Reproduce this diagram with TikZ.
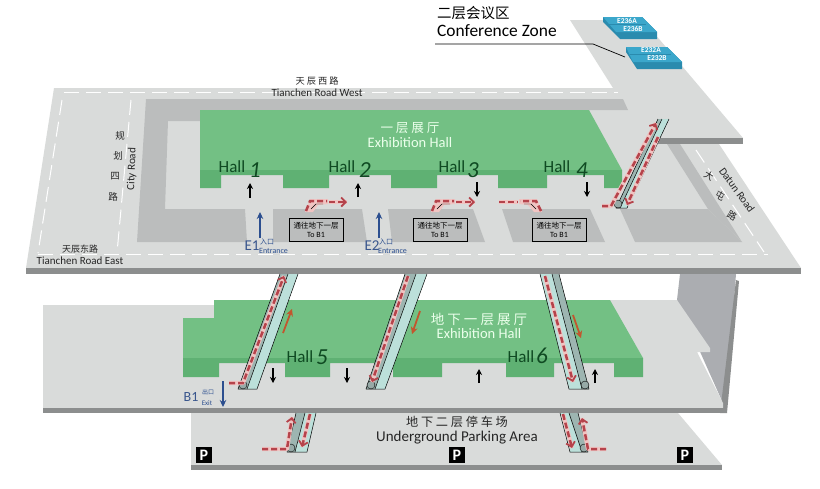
\documentclass[tikz,border=0pt]{standalone}
\usepackage{fontspec}
\setmainfont{Carlito}
\newfontfamily\cjk{Noto Sans CJK SC}
\usetikzlibrary{arrows.meta}
\definecolor{slabgray}{HTML}{D9DBDA}
\definecolor{edgegray}{HTML}{8C8E8E}
\definecolor{blockgray}{HTML}{BBBDBD}
\definecolor{wallgray}{HTML}{ABADB1}
\definecolor{hallgreen}{HTML}{73C084}
\definecolor{frontgreen}{HTML}{5FB173}
\definecolor{labelgreen}{HTML}{0F4A22}
\definecolor{roomblue}{HTML}{3BA7CB}
\definecolor{roomside}{HTML}{2A8BAE}
\definecolor{routered}{HTML}{B5434B}
\definecolor{routeglow}{HTML}{F0C4C2}
\definecolor{gateblue}{HTML}{2C4F8F}
\definecolor{stepdark}{HTML}{9DB5B1}
\definecolor{steplight}{HTML}{BCE0DA}
\definecolor{sloperust}{HTML}{C2562E}
\tikzset{
    roadline/.style={white, line width=1pt, dash pattern=on 15pt off 7pt},
    walkarrow/.style={-{Stealth[length=6pt,width=6pt]}, line width=1.6pt, black},
    gatearrow/.style={-{Stealth[length=7pt,width=6.5pt]}, line width=1.8pt, gateblue},
    slopearrow/.style={-{Stealth[length=7pt,width=7pt]}, line width=1.8pt, sloperust},
    routeglowline/.style={routeglow, line width=4.2pt, line join=round},
    routeline/.style={routered, line width=2.5pt, dash pattern=on 6pt off 3pt},
    routetip/.style={-{Straight Barb[length=4.5pt,width=9pt,line width=1.8pt]}},
    hallname/.style={font=\fontsize{17}{17}\selectfont, text=labelgreen, inner sep=0pt},
    hallnum/.style={font=\fontsize{23}{23}\selectfont\itshape, text=labelgreen, inner sep=0pt},
    whitelabel/.style={text=white!92!green, align=center, inner sep=0pt},
    roadlabel/.style={font=\fontsize{11}{12}\selectfont, align=center, inner sep=0pt, text=black!85},
    bonebox/.style={draw=black, line width=0.8pt, minimum width=54pt, minimum height=23pt,
        inner sep=0pt, align=center, font=\fontsize{8}{9}\selectfont},
    parkbox/.style={fill=black, text=white, minimum size=16pt, inner sep=0pt,
        font=\fontsize{16}{16}\selectfont\bfseries},
    roomtag/.style={text=white, inner sep=0pt, font=\fontsize{7.5}{7}\selectfont\bfseries},
}
\begin{document}
\begin{tikzpicture}[x=1pt,y=-1pt]
    \useasboundingbox (0,0) rectangle (820,488);
    % Parking level
    \fill[slabgray] (191,413) -- (678,413) -- (722,465) -- (191,465) -- cycle;
    \fill[edgegray] (191,465) rectangle (722,470);
    % Back wall and B1 level
    \fill[wallgray] (680,274) -- (736,274) -- (726,410) -- (677,300) -- cycle;
    \fill[edgegray] (736,280) -- (739,281) -- (727,413) -- (720,413) -- cycle;
    \fill[slabgray] (43,305) -- (214,305) -- (214,300) -- (677,300) -- (710,348) -- (710,352)
        -- (697,352) -- (723,403) -- (723,409) -- (43,409) -- cycle;
    \fill[edgegray] (43,408) rectangle (727,413);
    % B1 hall
    \fill[hallgreen] (214,300) -- (610,300) -- (643,358) -- (183,358) -- (183,318) -- (214,318) -- cycle;
    \fill[frontgreen] (183,358) -- (643,358) -- (643,377) -- (614,377) -- (614,363) -- (554,363)
        -- (554,377) -- (506,377) -- (506,363) -- (442,363) -- (442,377) -- (393,377) -- (393,363)
        -- (330,363) -- (330,377) -- (285,377) -- (285,363) -- (219,363) -- (219,377) -- (183,377) -- cycle;
    % Ground level, with the strip up to the conference rooms
    \fill[slabgray] (54,88) -- (613,88) -- (570,20) -- (643,20) -- (743,138) -- (715,138)
        -- (801,268) -- (26,268) -- cycle;
    \fill[edgegray] (658,138) rectangle (743,144);
    \fill[edgegray] (26,268) rectangle (801,274);
    % Road markings
    \draw[roadline] (64,92) -- (618,92);
    \draw[roadline] (38,254) -- (768,254);
    \draw[roadline] (62,100) -- (38,253);
    \draw[roadline] (131,100) -- (117,253);
    \draw[roadline] (696,150) -- (764,252);
    % Grey blocks round the ground hall
    \fill[blockgray] (146,99) -- (623,99) -- (628,110) -- (200,110) -- (200,121) -- (168,121)
        -- (165,209) -- (245,209) -- (247,242) -- (137,242) -- cycle;
    \foreach \ax/\bx/\cx/\dx in {273/362/367/273, 388/473/485/392, 502/590/605/513, 620/708/742/635} {
        \fill[blockgray] (\ax,209) -- (\bx,209) -- (\cx,242) -- (\dx,242) -- cycle;
    }
    \fill[blockgray] (667,144) -- (680,144) -- (742,242) -- (708,209) -- cycle;
    % Ground hall
    \fill[hallgreen] (200,110) -- (589,110) -- (622,170) -- (200,170) -- cycle;
    \fill[frontgreen] (200,170) -- (622,170) -- (622,188) -- (604,188) -- (604,175) -- (547,175)
        -- (547,188) -- (498,188) -- (498,175) -- (437,175) -- (437,188) -- (391,188) -- (391,175)
        -- (329,175) -- (329,188) -- (283,188) -- (283,175) -- (221,175) -- (221,188) -- (200,188) -- cycle;
    % Conference rooms
    \foreach \ax/\bx/\cx/\dx/\ey/\fy in {603/642/657/620/17/39, 626/667/682/637/47/69} {
        \fill[roomside] (\ax,\ey) -- (\bx,\ey) -- (\cx,\fy-7) -- (\cx,\fy) -- (\dx,\fy) -- (\ax,\ey+5) -- cycle;
        \fill[roomblue] (\ax,\ey) -- (\bx,\ey) -- (\cx,\fy-7) -- (\dx-4,\fy-7) -- cycle;
        \draw[roomside, line width=0.5pt] (\ax+4,\ey+7) -- (\bx+4,\ey+7);
    }
    \node[roomtag] (roomA) at (627,20.5) {E236A};
    \node[roomtag] (roomB) at (633,28.5) {E236B};
    \node[roomtag] (roomC) at (651,50.5) {E232A};
    \node[roomtag] (roomD) at (657,58.5) {E232B};
    % Moving walkways: y top/y foot/top edges/foot edges/band colours/cap
    \foreach \ty/\by/\ta/\tb/\tc/\ba/\bb/\bc/\cl/\cr/\cp in {
        274/389/280/288/298/238/247/257/stepdark/steplight/243,
        274/389/405/416/427/366/375/385/stepdark/steplight/371,
        274/389/540/552/559/569/582/589/steplight/stepdark/585,
        413/452/296/305/316/287/295/307/stepdark/steplight/291,
        413/452/560/569/578/570/582/588/steplight/stepdark/584,
        119/208/658/662/669/616/620/627/stepdark/steplight/618
    } {
        \fill[\cl] (\ta,\ty) -- (\tb,\ty) -- (\bb,\by) -- (\ba,\by) -- cycle;
        \fill[\cr] (\tb,\ty) -- (\tc,\ty) -- (\bc,\by) -- (\bb,\by) -- cycle;
        \draw[line width=0.5pt] (\tb,\ty) -- (\bb,\by);
        \draw[line width=0.5pt, line join=round] (\ta,\ty) -- (\ba,\by) -- (\bc,\by) -- (\tc,\ty);
        \filldraw[fill=stepdark!80!gray, line width=0.4pt] (\cp,\by-4) circle (4pt);
    }
    % Routes on the walkways
    \foreach \ax/\ay/\bx/\by/\cx/\cy in {
        602/206/611/206/656/123,
        229/383/243/383/284/276,
        262/449/287/449/292/417,
        606/449/588/449/582/418
    } {
        \draw[routeglowline] (\ax,\ay) -- (\bx,\by) -- (\cx,\cy);
        \draw[routeline, routetip] (\ax,\ay) -- (\bx,\by) -- (\cx,\cy);
    }
    \foreach \ax/\ay/\bx/\by in {
        658/137/627/205,
        408/276/372/382,
        545/276/573/382,
        310/414/302/447,
        563/414/572/448
    } {
        \draw[routeglowline] (\ax,\ay) -- (\bx,\by);
        \draw[routeline, routetip] (\ax,\ay) -- (\bx,\by);
    }
    % Stairs to B1
    \foreach \ax/\bx/\cx/\dx/\ex in {306/310/327/329/347, 432/436/454/456/475} {
        \fill[routeglow] (\ax-1,212) -- (\bx,199) -- (\cx+1,199) -- (\cx+1,204) -- (\bx+8,205) -- (\ax+7,212) -- cycle;
        \draw[routeglowline] (\dx,202) -- (\ex,202);
        \draw[routeline, routetip] (\dx,202) -- (\ex,202);
        \draw[routeline] (\ax,211) -- (\bx,201) -- (\cx,201);
        \draw[line width=0.4pt] (\ax+5,209) -- (\bx+6,204) -- (\cx-4,204);
    }
    \fill[routeglow] (542,212) -- (537,199) -- (519,199) -- (519,204) -- (528,205) -- (534,212) -- cycle;
    \draw[routeglowline] (499,202) -- (518,202);
    \draw[routeline] (499,202) -- (518,202);
    \draw[routeline] (541,211) -- (536,201) -- (520,201);
    \draw[line width=0.4pt] (536,209) -- (531,204) -- (524,204);
    % Level slope arrows
    \foreach \ax/\ay/\bx/\by in {283/333/292/309, 420/311/412/334, 573/315/581/338} {
        \draw[slopearrow] (\ax,\ay) -- (\bx,\by);
    }
    % Walking direction
    \foreach \ax/\ay/\by in {
        250/198/183, 358/197/183, 477/182/197, 587/182/197,
        273/368/383, 347/368/383, 479/383/369, 595/383/369
    } {
        \draw[walkarrow] (\ax,\ay) -- (\ax,\by);
    }
    % Hall names
    \foreach \nm/\hx/\hy/\nx/\ny in {
        1/232/167/255/170, 2/342/167/365/170, 3/452/167/473/170, 4/557/167/582/170,
        5/300/357/322/357, 6/521/357/542/356
    } {
        \node[hallname] (hall\nm) at (\hx,\hy) {Hall};
        \node[hallnum] (hallnum\nm) at (\nx,\ny) {\nm};
    }
    \node[whitelabel, font=\fontsize{12.6}{12}\selectfont\cjk] (groundcn) at (410,128) {一 层 展 厅};
    \node[whitelabel, font=\fontsize{14.5}{14}\selectfont] (grounden) at (410,143) {Exhibition Hall};
    \node[whitelabel, font=\fontsize{13.5}{12}\selectfont\cjk] (basecn) at (479,319) {地 下 一 层 展 厅};
    \node[whitelabel, font=\fontsize{14.5}{14}\selectfont] (baseen) at (479,334) {Exhibition Hall};
    % Boxes
    \foreach \nm/\bx in {boxA/316, boxB/440, boxC/559} {
        \node[bonebox] (\nm) at (\bx,229.5) {{\cjk\fontsize{7.5}{9}\selectfont 通往地下一层}\\To B1};
    }
    % Entrances and exit
    \foreach \nm/\ax/\ex/\tx in {1/260/252/267, 2/379/372/386} {
        \draw[gatearrow] (\ax,238) -- (\ax,212);
        \node[inner sep=0pt, text=gateblue!85!gray, font=\fontsize{15}{15}\selectfont] (gate\nm) at (\ex,246) {E\nm};
        \node[inner sep=0pt, anchor=west, text=gateblue, font=\fontsize{7}{7}\selectfont\cjk] (gatecn\nm) at (\tx-7,241.5) {入口};
        \node[inner sep=0pt, anchor=west, text=gateblue, font=\fontsize{8}{7}\selectfont] (gateen\nm) at (\tx-8,251) {Entrance};
    }
    \draw[gatearrow] (223,381) -- (223,407);
    \node[inner sep=0pt, text=gateblue!85!gray, font=\fontsize{14}{14}\selectfont] (exitname) at (191,397) {B1};
    \node[inner sep=0pt, text=gateblue, font=\fontsize{6}{7}\selectfont\cjk] (exitcn) at (208,392.5) {出口};
    \node[inner sep=0pt, text=gateblue, font=\fontsize{7}{7}\selectfont] (exiten) at (207,403) {Exit};
    % Parking signs
    \foreach \nm/\bx in {1/204, 2/457, 3/685} {
        \node[parkbox] (park\nm) at (\bx,455) {P};
    }
    \node[roadlabel, font=\fontsize{15}{15}\selectfont] (parklabel) at (457,430) {{\cjk\fontsize{12.2}{15}\selectfont 地 下 二 层 停 车 场}\\Underground Parking Area};
    % Road names
    \node[roadlabel] (roadwest) at (317,87) {{\cjk\fontsize{9.2}{12}\selectfont 天 辰 西 路}\\Tianchen Road West};
    \node[roadlabel] (roadeast) at (80,255) {{\cjk\fontsize{9}{12}\selectfont 天辰东路}\\Tianchen Road East};
    \node[roadlabel, rotate=88] (cityroad) at (132,169) {City Road};
    \node[roadlabel, rotate=-54] (datunroad) at (737,190) {Datun Road};
    \foreach \ch/\cx/\cy in {规/120/136, 划/118/156, 四/115/176, 路/113/197} {
        \node[roadlabel, font=\fontsize{9.5}{10}\selectfont\cjk] at (\cx,\cy) {\ch};
    }
    \foreach \ch/\cx/\cy in {大/709/176, 屯/720/196, 路/732/216} {
        \node[roadlabel, rotate=-30, font=\fontsize{9.5}{10}\selectfont\cjk] at (\cx,\cy) {\ch};
    }
    % Conference zone label and its leader
    \node[anchor=west, inner sep=0pt, font=\fontsize{14.5}{14}\selectfont\cjk] (confcn) at (437,13) {二层会议区};
    \node[anchor=west, inner sep=0pt, font=\fontsize{17.4}{17}\selectfont] (confen) at (437,31) {Conference Zone};
    \coordinate (confstart) at (435,44);
    \coordinate (confbend) at (593,44);
    \coordinate (confend) at (625,57);
    \draw[line width=0.7pt] (confstart) -- (confbend) -- (confend);
\end{tikzpicture}
\end{document}
